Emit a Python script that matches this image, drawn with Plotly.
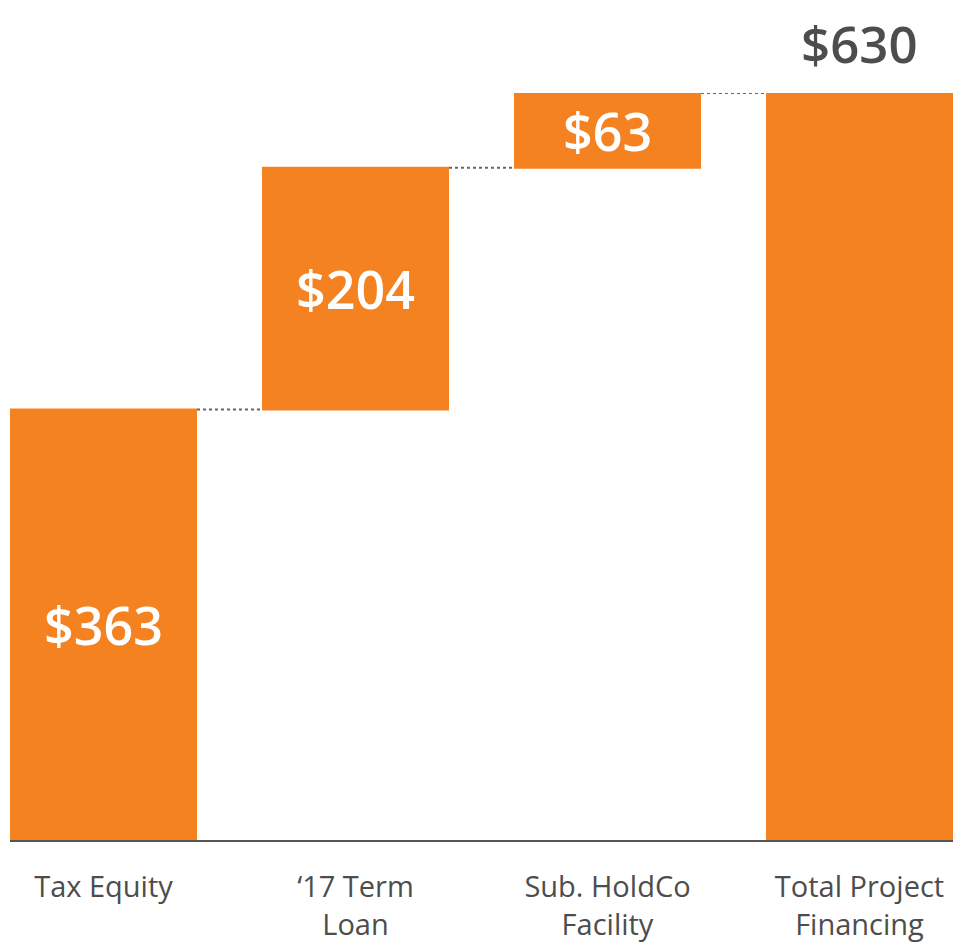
import plotly.graph_objects as go

categories = ["Tax Equity", "\u201817 Term<br>Loan", "Sub. HoldCo<br>Facility", "Total Project<br>Financing"]
values = [363, 204, 63, 630]
measures = ["relative", "relative", "relative", "total"]
labels = ["$363", "$204", "$63", ""]
total_label = "$630"

orange = "#F58220"
gray = "#4D4D4D"
font_family = "'Open Sans', Lato, sans-serif"

fig = go.Figure(go.Waterfall(
    x=categories,
    y=values,
    measure=measures,
    text=labels,
    textposition="inside",
    insidetextanchor="middle",
    constraintext="none",
    textfont=dict(family=font_family, size=52, color="white", weight=600),
    increasing=dict(marker=dict(color=orange, line=dict(width=0))),
    totals=dict(marker=dict(color=orange, line=dict(width=0))),
    decreasing=dict(marker=dict(color=orange, line=dict(width=0))),
    connector=dict(mode="between", line=dict(color="#666666", width=2, dash="dot")),
    width=[0.742] * 4,
    cliponaxis=False,
    hoverinfo="skip",
))

fig.add_annotation(
    x=categories[3], y=values[3], text=total_label, showarrow=False,
    yanchor="bottom", yshift=14, borderpad=0,
    font=dict(family=font_family, size=51, color=gray, weight=600),
)

fig.update_layout(
    width=959, height=937,
    margin=dict(l=2, r=14, t=85, b=105, autoexpand=False),
    paper_bgcolor="white", plot_bgcolor="white",
    showlegend=False,
    xaxis=dict(
        range=[-0.371, 3.371], showgrid=False, zeroline=False, automargin=False,
        showline=True, linecolor="#555555", linewidth=2,
        ticks="", tickfont=dict(family=font_family, size=29, color=gray, weight=500),
        ticklabelstandoff=20,
    ),
    yaxis=dict(range=[0, 630], visible=False, showgrid=False, zeroline=False, automargin=False),
)

fig.write_html("out.html")
